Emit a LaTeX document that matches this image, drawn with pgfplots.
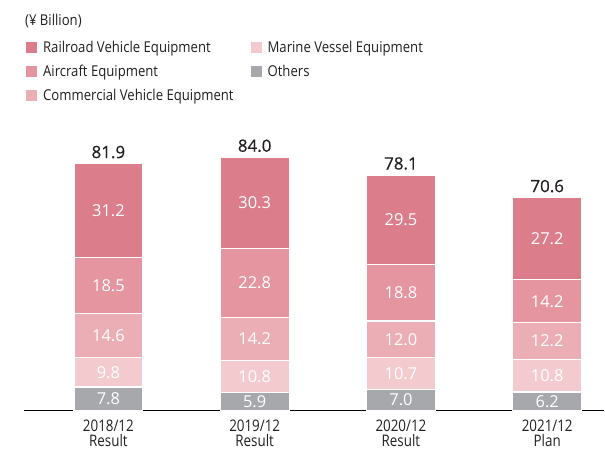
\documentclass[border=0pt]{standalone}
\usepackage{fontspec}
\setmainfont{Open Sans}
\newfontfamily\cond[FakeStretch=0.88]{Open Sans}
\newfontfamily\tcond[FakeStretch=0.84]{Open Sans}
\newfontfamily\semib[FakeBold=0.5]{Open Sans}
\usepackage{pgfplots}
\usepackage{pgfplotstable}
\pgfplotsset{compat=1.18}
\definecolor{rail}{HTML}{DB7D8B}
\definecolor{air}{HTML}{E4959F}
\definecolor{com}{HTML}{EBAEB5}
\definecolor{mar}{HTML}{F3CACD}
\definecolor{oth}{HTML}{A7A8AC}
\definecolor{txt}{HTML}{231F20}
\pgfplotstableread{
x oth mar com air rail tot
0 7.8 9.8 14.6 18.5 31.2 81.9
1 5.9 10.8 14.2 22.8 30.3 84.0
2 7.0 10.7 12.0 18.8 29.5 78.1
3 6.2 10.8 12.2 14.2 27.2 70.6
}\data
\pgfplotsset{
  /pgf/number format/assume math mode=true,
  common/.style={at={(24bp,39bp)}, anchor=south west,
    scale only axis, width=581bp, height=301.6bp,
    xmin=-0.577, xmax=3.391, ymin=0, ymax=100, clip=false},
  seg/.style={fill=#1, draw=white, line width=1.2bp},
  lab/.style={only marks, mark=*, mark size=0pt, forget plot,
    nodes near coords={\pgfmathprintnumber[fixed,fixed zerofill,precision=1]{\pgfplotspointmeta}},
    point meta=explicit,
    every node near coord/.append style={text=white, anchor=center, font=\fontsize{16.5}{16.5}\selectfont}},
}
\begin{document}
\begin{tikzpicture}[x=1bp,y=1bp]
\path (0,0) rectangle (605,450);
\node[anchor=west, inner sep=0pt, text=txt, font=\cond\fontsize{15}{17}\selectfont] at (25,429) {(¥ Billion)};
\begin{axis}[common,
  ybar stacked, bar width=69bp,
  axis x line=bottom, axis y line=none,
  x axis line style={-, line width=1.2bp, black},
  xtick={0,1,2,3},
  xticklabels={2018/12\\Result, 2019/12\\Result, 2020/12\\Result, 2021/12\\Plan},
  major tick length=0pt,
  x tick label style={align=center, text=txt, font=\tcond\fontsize{16}{15}\selectfont, inner sep=0pt, yshift=-9bp},
  ytick=\empty,
  legend image code/.code={\fill[#1, draw=none] (0bp,-5.5bp) rectangle (11bp,5.5bp);},
  legend style={at={(0.0034,1.234)}, anchor=north west, draw=none, fill=none,
    font=\cond\fontsize{15}{17}\selectfont, text=txt, inner sep=0pt,
    row sep=7bp, cells={anchor=west},
    /tikz/every odd column/.append style={column sep=4bp},
    /tikz/every even column/.append style={column sep=15bp}},
  legend columns=3, transpose legend,
]
\addlegendimage{fill=rail, draw=none}\addlegendentry{Railroad Vehicle Equipment}
\addlegendimage{fill=air, draw=none}\addlegendentry{Aircraft Equipment}
\addlegendimage{fill=com, draw=none}\addlegendentry{Commercial Vehicle Equipment}
\addlegendimage{fill=mar, draw=none}\addlegendentry{Marine Vessel Equipment}
\addlegendimage{fill=oth, draw=none}\addlegendentry{Others}
\addplot[seg=oth, forget plot] table[x=x, y=oth]{\data};
\addplot[seg=mar, forget plot] table[x=x, y=mar]{\data};
\addplot[seg=com, forget plot] table[x=x, y=com]{\data};
\addplot[seg=air, forget plot] table[x=x, y=air]{\data};
\addplot[seg=rail, forget plot] table[x=x, y=rail]{\data};
\end{axis}
\begin{axis}[common, hide axis]
\addplot[lab] table[x=x, y expr={\thisrow{oth}/2}, meta=oth]{\data};
\addplot[lab] table[x=x, y expr={\thisrow{oth}+\thisrow{mar}/2}, meta=mar]{\data};
\addplot[lab] table[x=x, y expr={\thisrow{oth}+\thisrow{mar}+\thisrow{com}/2}, meta=com]{\data};
\addplot[lab] table[x=x, y expr={\thisrow{oth}+\thisrow{mar}+\thisrow{com}+\thisrow{air}/2}, meta=air]{\data};
\addplot[lab] table[x=x, y expr={\thisrow{oth}+\thisrow{mar}+\thisrow{com}+\thisrow{air}+\thisrow{rail}/2}, meta=rail]{\data};
\addplot[lab, every node near coord/.append style={text=txt, anchor=south, yshift=2bp, font=\semib\fontsize{17}{17}\selectfont}]
  table[x=x, y=tot, meta=tot]{\data};
\end{axis}
\end{tikzpicture}
\end{document}
